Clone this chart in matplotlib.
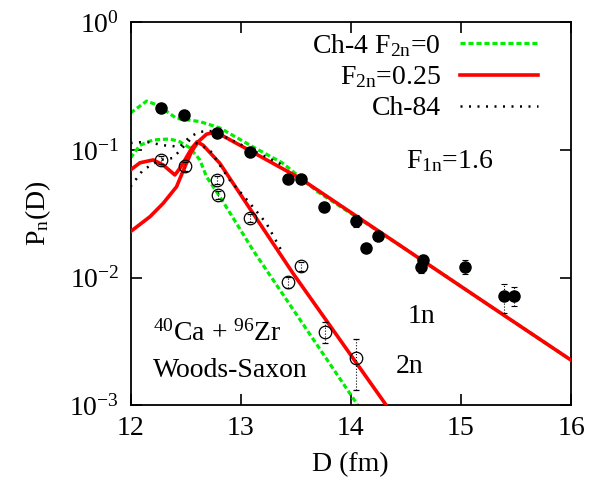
import matplotlib
matplotlib.use("Agg")
import matplotlib.pyplot as plt
import numpy as np

plt.rcParams['font.family'] = ['Liberation Serif', 'DejaVu Serif']
plt.rcParams['mathtext.fontset'] = 'custom'
plt.rcParams['mathtext.rm'] = 'Liberation Serif'
plt.rcParams['mathtext.it'] = 'Liberation Serif:italic'
plt.rcParams['mathtext.bf'] = 'Liberation Serif:bold'
plt.rcParams['mathtext.default'] = 'regular'

# ---- data ----
red1n_D = [12.0, 12.177, 12.297, 12.418, 12.494, 12.554, 12.614, 12.690, 12.750, 12.811, 13.173, 13.535, 14.441, 15.211, 16.0]
red1n_P = [0.0229, 0.0300, 0.0382, 0.0515, 0.0740, 0.0971, 0.116, 0.133, 0.137, 0.133, 0.0897, 0.0603, 0.0180, 0.00643, 0.00225]

red2n_D = [12.0, 12.086, 12.207, 12.297, 12.403, 12.448, 12.494, 12.555, 12.605, 12.659, 12.811, 13.112, 13.475, 14.321, 14.45]
red2n_P = [0.0697, 0.0794, 0.0836, 0.0762, 0.0637, 0.0718, 0.0836, 0.103, 0.116, 0.109, 0.0787, 0.0319, 0.0108, 0.0010, 0.0007]

grn1n_D = [12.0, 12.147, 12.25, 12.418, 12.630, 12.811, 13.11, 13.38, 13.7, 14.441, 15.211, 16.0]
grn1n_P = [0.195, 0.242, 0.224, 0.177, 0.167, 0.149, 0.106, 0.0791, 0.0470, 0.0180, 0.00643, 0.00225]

grn2n_D = [12.0, 12.086, 12.204, 12.358, 12.448, 12.539, 12.630, 12.690, 12.811, 12.962, 13.112, 14.063, 14.2]
grn2n_P = [0.0865, 0.109, 0.120, 0.122, 0.116, 0.104, 0.0836, 0.0618, 0.0431, 0.0266, 0.0164, 0.0010, 0.00067]

blk1n_D = [12.0, 12.147, 12.294, 12.448, 12.539, 12.630, 12.747, 13.082, 13.384]
blk1n_P = [0.1135, 0.116, 0.109, 0.106, 0.127, 0.139, 0.141, 0.102, 0.0759]

blk2n_D = [12.0, 12.113, 12.267, 12.385, 12.539, 12.720, 12.901, 13.082, 13.234, 13.382]
blk2n_P = [0.0515, 0.0697, 0.0836, 0.0865, 0.120, 0.100, 0.0582, 0.0384, 0.0266, 0.0156]

exp1n_D = [12.276, 12.487, 12.790, 13.089, 13.429, 13.544, 13.756, 14.049, 14.140, 14.245, 14.652, 14.638, 15.036, 15.392, 15.483]
exp1n_P = [0.212, 0.187, 0.137, 0.0965, 0.0589, 0.0589, 0.0355, 0.0277, 0.0169, 0.0213, 0.0137, 0.0121, 0.0121, 0.0071, 0.00716]
exp1n_E = [0.005, 0.004, 0.003, 0.002, 0.002, 0.002, 0.001, 0.003, 0.0007, 0.0015, 0.0012, 0.0012, 0.0015, 0.0018, 0.0012]

exp2n_D = [12.273, 12.495, 12.781, 12.796, 13.089, 13.544, 13.429, 13.762, 14.049]
exp2n_P = [0.0835, 0.0749, 0.0582, 0.0444, 0.0293, 0.0122, 0.00917, 0.00376, 0.00232]
exp2n_E = [0.006, 0.006, 0.004, 0.003, 0.002, 0.001, 0.0009, 0.0007, 0.001]

yticks = [1e-3, 1e-2, 1e-1, 1e0]
ytick_labels = ['10$^{-3}$', '10$^{-2}$', '10$^{-1}$', '10$^{0}$']
xticks = [12, 13, 14, 15, 16]

FS = 20

fig = plt.figure(figsize=(6.08, 4.94), dpi=100)
ax = fig.add_axes([130.5/608, 1-405/494, (571-130.5)/608, (405-22.5)/494])

green = '#00ee00'
red = '#ff0000'

ax.plot(grn1n_D, grn1n_P, color=green, lw=2.3, dashes=(1.6, 0.9), label='Ch-4 F$_{2n}$=0', zorder=2)
ax.plot(grn2n_D, grn2n_P, color=green, lw=2.3, dashes=(1.6, 0.9), zorder=2)
ax.plot(red1n_D, red1n_P, color=red, lw=2.6, label='F$_{2n}$=0.25', zorder=3)
ax.plot(red2n_D, red2n_P, color=red, lw=2.6, zorder=3)
ax.plot(blk1n_D, blk1n_P, color='black', lw=1.8, dashes=(0.8, 2.6), label='Ch-84', zorder=4)
ax.plot(blk2n_D, blk2n_P, color='black', lw=1.8, dashes=(0.8, 2.6), zorder=4)

eb1 = ax.errorbar(exp1n_D, exp1n_P, yerr=exp1n_E, fmt='o', color='black', ms=8, elinewidth=0.8,
                  capsize=2, capthick=0.8, zorder=5)
eb1[2][0].set_linestyle(':')
eb2 = ax.errorbar(exp2n_D, exp2n_P, yerr=exp2n_E, fmt='o', mfc='none', mec='black', mew=0.9,
                  color='black', ms=9, elinewidth=0.8, capsize=2, capthick=0.8, zorder=5)
eb2[2][0].set_linestyle(':')

ax.set_yscale('log')
ax.set_xlim(12, 16)
ax.set_ylim(1e-3, 1e0)
ax.set_yticks(yticks)
ax.set_yticklabels(ytick_labels)
ax.yaxis.set_minor_locator(matplotlib.ticker.NullLocator())
ax.set_xticks(xticks)
ax.set_xticklabels([str(t) for t in xticks])
ax.tick_params(direction='in', length=8, width=1.2, top=True, right=True, labelsize=FS, pad=8)
for s in ax.spines.values():
    s.set_linewidth(1.3)

ax.set_xlabel('D (fm)', fontsize=FS, labelpad=8)
ax.set_ylabel('P$_{n}$(D)', fontsize=FS, labelpad=12)

ax.text(14.505, 0.082, 'F$_{1n}$=1.6', fontsize=FS, ha='left', va='center')
ax.text(14.514, 0.00494, '1n', fontsize=FS, ha='left', va='center')
ax.text(14.405, 0.00199, '2n', fontsize=FS, ha='left', va='center')
ax.text(12.204, 0.00318, '$^{40}$Ca + $^{96}$Zr', fontsize=FS, ha='left', va='baseline')
ax.text(12.204, 0.00166, 'Woods-Saxon', fontsize=FS, ha='left', va='baseline')

ax.legend(loc='upper right', bbox_to_anchor=(0.925, 0.975), frameon=False, markerfirst=False,
          fontsize=FS, handlelength=2.8, handletextpad=0.7, labelspacing=0.2, borderpad=0,
          borderaxespad=0)

fig.savefig('out.png', dpi=100)
